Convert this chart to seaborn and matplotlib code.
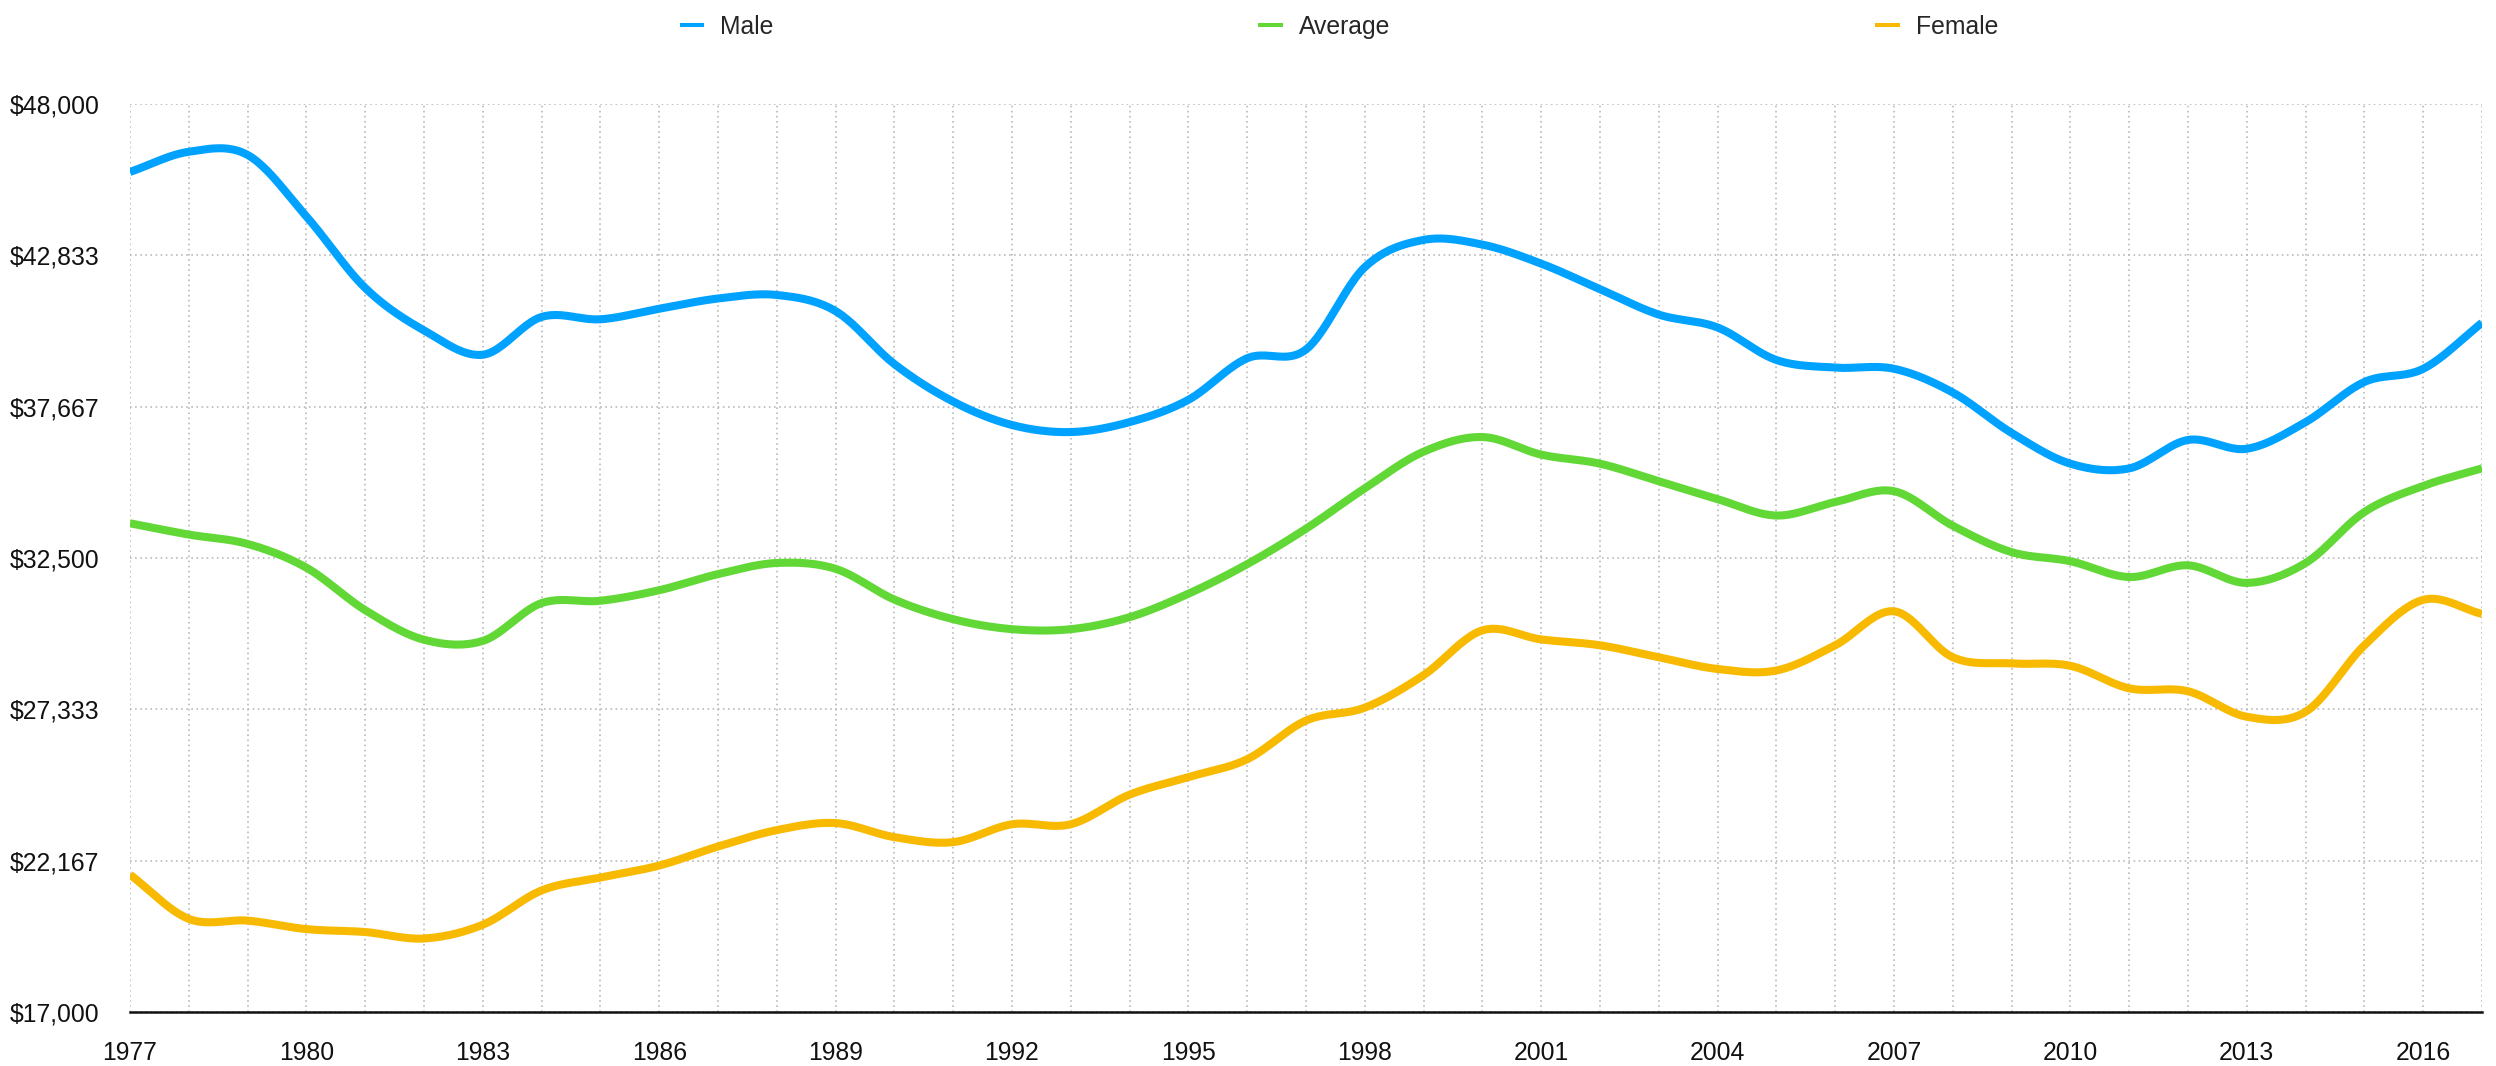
import numpy as np
import pandas as pd
import matplotlib
matplotlib.use("Agg")
import matplotlib.pyplot as plt
import seaborn as sns
from matplotlib.lines import Line2D

years = list(range(1977, 2018))

male = [45680, 46370, 46260, 44160, 41720, 40270, 39440, 40730, 40650, 41010,
        41360, 41480, 40930, 39120, 37840, 37040, 36800, 37140, 37900, 39320,
        39620, 42430, 43360, 43200, 42550, 41680, 40810, 40370, 39260, 39000,
        38960, 38150, 36770, 35720, 35560, 36530, 36230, 37140, 38510, 38960,
        40530]

average = [33685, 33300, 32980, 32170, 30720, 29710, 29670, 30960, 31040, 31400,
           31950, 32330, 32130, 31080, 30410, 30070, 30070, 30480, 31280, 32290,
           33500, 34880, 36130, 36630, 36030, 35720, 35120, 34510, 33950, 34410,
           34780, 33600, 32700, 32390, 31850, 32250, 31650, 32330, 34070, 34960,
           35560]

female = [21690, 20180, 20120, 19830, 19730, 19510, 19980, 21150, 21590, 22000,
          22650, 23210, 23450, 22970, 22800, 23410, 23410, 24420, 25020, 25630,
          26950, 27390, 28500, 30030, 29720, 29520, 29110, 28710, 28660, 29520,
          30680, 29110, 28900, 28820, 28050, 27950, 27080, 27250, 29520, 31070,
          30590]

series_names = ["Male", "Average", "Female"]
colors = {"Male": "#00A2FF", "Average": "#61D836", "Female": "#F8BA00"}

y_ticks = [17000, 22167, 27333, 32500, 37667, 42833, 48000]
y_labels = ["$17,000", "$22,167", "$27,333", "$32,500", "$37,667", "$42,833", "$48,000"]


def smooth(xs, ys, steps=24):
    # cubic hermite (catmull-rom tangents) so the line bends like the original
    xs = np.asarray(xs, float)
    ys = np.asarray(ys, float)
    m = np.zeros_like(ys)
    m[1:-1] = (ys[2:] - ys[:-2]) / 2
    m[0] = ys[1] - ys[0]
    m[-1] = ys[-1] - ys[-2]
    out_x, out_y = [], []
    for i in range(len(xs) - 1):
        t = np.linspace(0, 1, steps, endpoint=False)
        h00 = 2 * t**3 - 3 * t**2 + 1
        h10 = t**3 - 2 * t**2 + t
        h01 = -2 * t**3 + 3 * t**2
        h11 = t**3 - t**2
        out_x.extend(xs[i] + t * (xs[i + 1] - xs[i]))
        out_y.extend(h00 * ys[i] + h10 * m[i] + h01 * ys[i + 1] + h11 * m[i + 1])
    out_x.append(xs[-1])
    out_y.append(ys[-1])
    return out_x, out_y


frames = []
for name, vals in zip(series_names, [male, average, female]):
    sx, sy = smooth(years, vals)
    frames.append(pd.DataFrame({"year": sx, "value": sy, "series": name}))
df = pd.concat(frames, ignore_index=True)

sns.set_theme(style="white")
plt.rcParams["font.family"] = ["Liberation Sans", "DejaVu Sans"]

W, H = 2496, 1066
fig = plt.figure(figsize=(W / 100, H / 100), dpi=100)
ax = fig.add_axes([130 / W, 1 - 1012 / H, (2482 - 130) / W, (1012 - 104) / H])

sns.lineplot(data=df, x="year", y="value", hue="series", hue_order=series_names,
             palette=colors, estimator=None, sort=False, linewidth=5.8,
             legend=False, ax=ax)
for ln in ax.get_lines():
    ln.set_solid_capstyle("butt")
    ln.set_solid_joinstyle("round")

ax.set_xlim(1977, 2017)
ax.set_ylim(17000, 48000)
ax.set_xticks(years)
ax.set_xticklabels([str(y) if (y - 1977) % 3 == 0 else "" for y in years])
ax.set_yticks(y_ticks)
ax.set_yticklabels(y_labels)
ax.set_xlabel("")
ax.set_ylabel("")

ax.grid(True, color="#b4b4b4", linestyle=(0, (1, 2.2)), linewidth=1.15)
ax.set_axisbelow(True)

for side in ["left", "right", "top"]:
    ax.spines[side].set_visible(False)
ax.spines["bottom"].set_color("#111111")
ax.spines["bottom"].set_linewidth(1.8)

ax.tick_params(axis="x", direction="in", length=4.5, width=1.8, color="#111111",
               pad=21, labelsize=17.8, labelcolor="#111111")
ax.tick_params(axis="y", length=0, pad=22, labelsize=17.8, labelcolor="#111111")

handles = [Line2D([0], [0], color=colors[n], lw=2.9, solid_capstyle="butt")
           for n in series_names]
fig.legend(handles, series_names, loc="center", bbox_to_anchor=(1339 / W, 1 - 27 / H),
           ncol=3, frameon=False, handlelength=1.0, handletextpad=0.65,
           columnspacing=19.6, fontsize=17.8)

fig.savefig("out.png", dpi=100)
